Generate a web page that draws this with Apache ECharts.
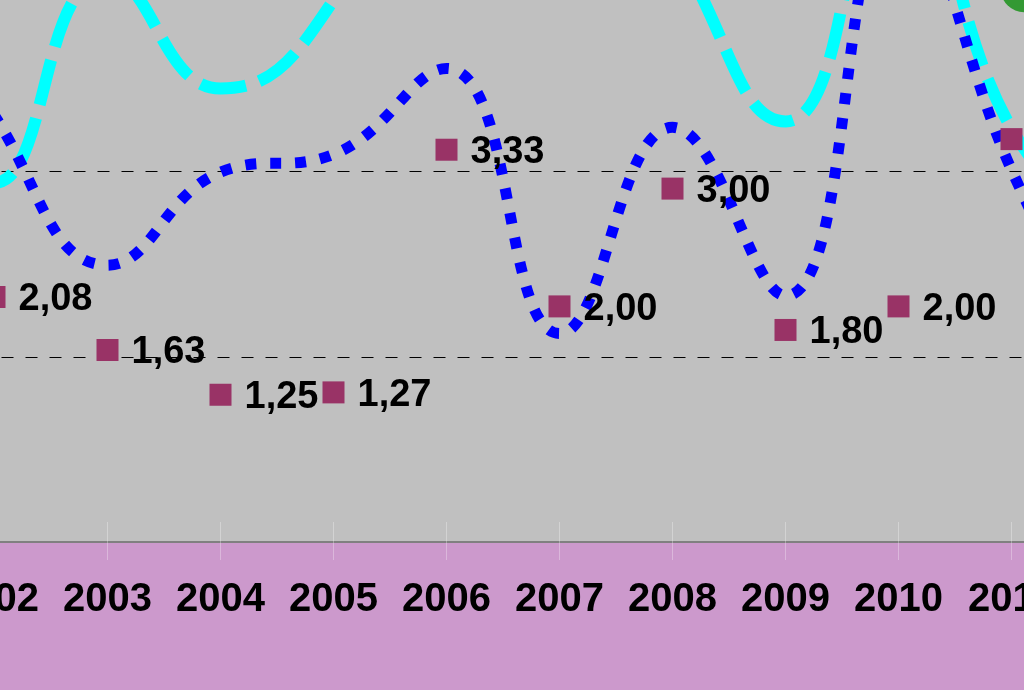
<!DOCTYPE html>
<html><head><meta charset="utf-8">
<script src="https://cdn.jsdelivr.net/npm/echarts@6/dist/echarts.min.js"></script>
<style>html,body{margin:0;padding:0;background:#CC99CC;overflow:hidden}#c{width:1024px;height:690px}</style>
</head><body><div id="c"></div>
<script>
// Categories (2001 and 2012 lie just outside the visible window)
const years = ['2001','2002','2003','2004','2005','2006','2007','2008','2009','2010','2011','2012'];
// Square markers with value labels
const squareValues = [null, 2.08, 1.63, 1.25, 1.27, 3.33, 2.00, 3.00, 1.80, 2.00, 3.42, null];
// Blue dotted smooth line
const dottedValues = [5.30, 3.62, 2.35, 3.14, 3.29, 4.02, 1.77, 3.52, 2.09, 5.45, 3.16, 1.20];
// Cyan dashed smooth line
const dashedValues = [5.00, 3.05, 4.80, 3.85, 4.60, 6.70, 6.50, 5.07, 3.57, 5.87, 3.51, 2.50];
// Green series (only one point peeks in at the top right)
const greenValues = [null, null, null, null, null, null, null, null, null, null, 4.70, null];

const fmt = v => v.toFixed(2).replace('.', ',');
const chart = echarts.init(document.getElementById('c'), null, {renderer: 'canvas'});
chart.setOption({
  animation: false,
  backgroundColor: '#CC99CC',
  grid: {left: -118.5, right: -100.5, top: -47, bottom: 148, show: true, backgroundColor: '#C0C0C0', borderWidth: 0,
    containLabel: false, outerBoundsMode: 'none'},
  xAxis: [{
    type: 'category', data: years, boundaryGap: false,
    axisLine: {lineStyle: {color: '#808080', width: 2}},
    axisTick: {show: true, length: 18, lineStyle: {color: 'rgba(255,255,255,0.3)', width: 1}},
    axisLabel: {interval: 0, margin: 38, fontSize: 40, fontWeight: 'bold', color: '#000', fontFamily: 'Liberation Sans, Arial, sans-serif'},
    splitLine: {show: false}
  }, {
    type: 'category', data: years, boundaryGap: false, position: 'bottom',
    axisLine: {show: false},
    axisTick: {show: true, inside: true, length: 20, lineStyle: {color: 'rgba(255,255,255,0.3)', width: 1}},
    axisLabel: {show: false}, splitLine: {show: false}
  }],
  yAxis: {
    type: 'value', min: 0, max: 5, interval: 1.572,
    axisLine: {show: false}, axisTick: {show: false}, axisLabel: {show: false},
    splitLine: {show: true, lineStyle: {color: '#000', width: 1, type: [12, 12]}}
  },
  series: [{
    type: 'line', data: dashedValues, smooth: 0.5, symbol: 'none',
    lineStyle: {color: '#00FFFF', width: 12, type: [46, 14], cap: 'butt'}, z: 2
  }, {
    type: 'line', data: dottedValues, smooth: 0.45, symbol: 'none',
    lineStyle: {color: '#0000FF', width: 11, type: [11, 14], cap: 'butt'}, z: 3
  }, {
    type: 'scatter', data: greenValues, symbol: 'circle', symbolSize: 48, symbolOffset: [13, 0],
    itemStyle: {color: '#339933', opacity: 1}, z: 4
  }, {
    type: 'scatter', data: squareValues, symbol: 'rect', symbolSize: 22,
    itemStyle: {color: '#993366', opacity: 1}, z: 5,
    label: {show: true, position: 'right', distance: 13, offset: [0, 3], fontSize: 38, fontWeight: 'bold', color: '#000',
      fontFamily: 'Liberation Sans, Arial, sans-serif', formatter: p => fmt(p.value)}
  }]
});
</script></body></html>
